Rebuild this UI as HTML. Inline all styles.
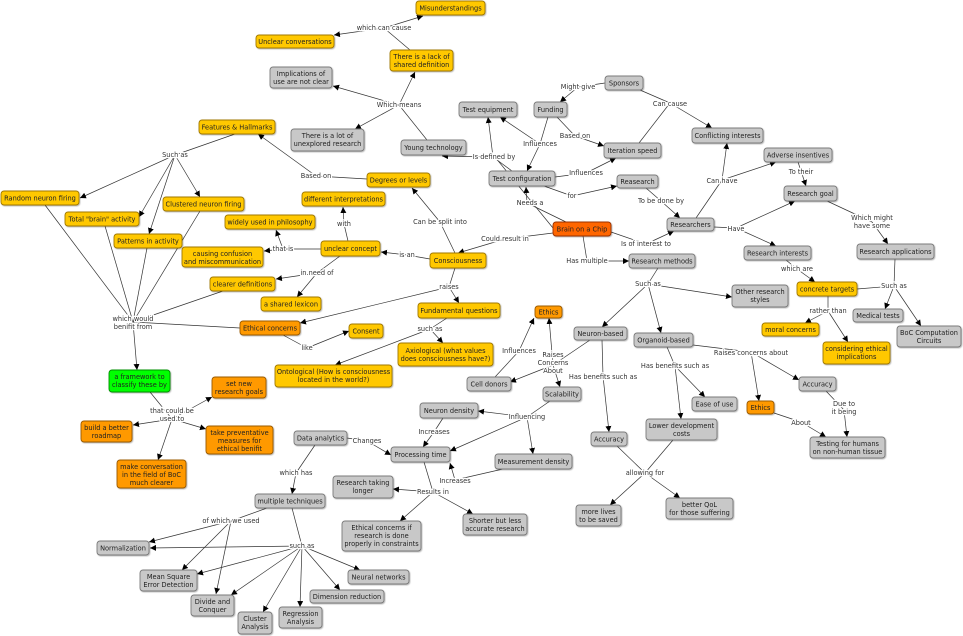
<!DOCTYPE html>
<html><head><meta charset="utf-8"><style>
html,body{margin:0;padding:0;background:#fff;width:963px;height:636px;overflow:hidden}
svg{display:block}
text{font-family:"DejaVu Sans","Liberation Sans",sans-serif;font-size:6.6px;fill:#222;text-anchor:middle}
.l text,text.l{fill:#333;paint-order:stroke;stroke:#fff;stroke-width:2.5px;stroke-linejoin:round}
rect{stroke-width:0.9;filter:url(#sh)}
.y{fill:#ffc800;stroke:#a07800}.g{fill:#c8c8c8;stroke:#7a7a7a}.o{fill:#ff9900;stroke:#9a5a00}.r{fill:#ff6600;stroke:#9a3000}.gr{fill:#00ff00;stroke:#009000}
line,polyline{stroke:#333;stroke-width:0.7;fill:none}
</style></head><body>
<svg id="s" width="963" height="636" viewBox="0 0 963 636" xmlns="http://www.w3.org/2000/svg">
<defs>
<marker id="a" markerWidth="7" markerHeight="7" refX="6" refY="3" orient="auto" markerUnits="userSpaceOnUse"><path d="M0,0 L6,3 L0,6 z" fill="#000"/></marker>
<filter id="sh" x="-10%" y="-10%" width="130%" height="140%"><feDropShadow dx="0.8" dy="0.8" stdDeviation="0.4" flood-color="#000" flood-opacity="0.3"/></filter>
</defs>
<g id="edges"></g>
<g class="l" id="labels">
<text x="384" y="30">which can cause</text>
<text x="399" y="107">Which means</text>
<text x="495" y="159">Is a</text>
<text x="175" y="157">Such as</text>
<text x="316" y="178">Based on</text>
<text x="440" y="224">Can be split into</text>
<text x="505" y="241">Could result in</text>
<text x="407" y="257">is an</text>
<text x="344" y="226">with</text>
<text x="283" y="251">that is</text>
<text x="317" y="275">in need of</text>
<text x="449" y="289">raises</text>
<text x="133" y="321">which would</text><text x="133" y="329">benifit from</text>
<text x="307" y="350">like</text>
<text x="430" y="331">such as</text>
<text x="172" y="413">that could be</text><text x="172" y="421">used to</text>
<text x="578" y="89">Might give</text>
<text x="670" y="106">Can cause</text>
<text x="540" y="146">Influences</text>
<text x="575" y="138">Based on</text>
<text x="494" y="159">Is defined by</text>
<text x="586" y="175">Influences</text>
<text x="572" y="198">for</text>
<text x="530" y="205">Needs a</text>
<text x="661" y="203">To be done by</text>
<text x="722" y="183">Can have</text>
<text x="801" y="174">To their</text>
<text x="646" y="246">Is of interest to</text>
<text x="736" y="231">Have</text>
<text x="872" y="220">Which might</text><text x="872" y="228">have some</text>
<text x="587" y="263">Has multiple</text>
<text x="797" y="271">which are</text>
<text x="894" y="288">Such as</text>
<text x="828" y="313">rather than</text>
<text x="648" y="286">Such as</text>
<text x="519" y="353">Influences</text>
<text x="553" y="357">Raises</text><text x="553" y="365">Concerns</text><text x="553" y="373">About</text>
<text x="603" y="379">Has benefits such as</text>
<text x="675" y="368">Has benefits such as</text>
<text x="751" y="355">Raises concerns about</text>
<text x="844" y="406">Due to</text><text x="844" y="414">it being</text>
<text x="801" y="425">About</text>
<text x="645" y="475">allowing for</text>
<text x="527" y="419">Influencing</text>
<text x="434" y="434">Increases</text>
<text x="455" y="483">Increases</text>
<text x="367" y="443">Changes</text>
<text x="433" y="494">Results in</text>
<text x="296" y="475">which has</text>
<text x="231" y="523">of which we used</text>
<text x="302" y="548">such as</text>
</g>
<g id="nodes">
<rect class="y" x="416" y="1" width="69" height="14" rx="3"/><text x="450.5" y="10.5">Misunderstandings</text>
<rect class="y" x="256" y="35" width="78" height="13" rx="3"/><text x="295" y="44">Unclear conversations</text>
<rect class="y" x="390" y="50" width="63" height="21" rx="3"/><text x="421.5" y="59">There is a lack of</text><text x="421.5" y="67">shared definition</text>
<rect class="g" x="270" y="67" width="62" height="21" rx="3"/><text x="301" y="76">Implications of</text><text x="301" y="84">use are not clear</text>
<rect class="g" x="291" y="129" width="73" height="22" rx="3"/><text x="327.5" y="138">There is a lot of</text><text x="327.5" y="146">unexplored research</text>
<rect class="g" x="401" y="140" width="65" height="15" rx="3"/><text x="433.5" y="150">Young technology</text>
<rect class="g" x="459" y="102" width="58" height="15" rx="3"/><text x="488" y="112">Test equipment</text>
<rect class="g" x="534" y="102" width="33" height="15" rx="3"/><text x="550.5" y="112">Funding</text>
<rect class="g" x="605" y="76" width="38" height="14" rx="3"/><text x="624" y="85.5">Sponsors</text>
<rect class="g" x="692" y="128" width="71" height="15" rx="3"/><text x="727.5" y="138">Conflicting interests</text>
<rect class="g" x="604" y="143" width="57" height="15" rx="3"/><text x="632.5" y="153">Iteration speed</text>
<rect class="g" x="489" y="171" width="66" height="15" rx="3"/><text x="522" y="181">Test configuration</text>
<rect class="g" x="617" y="175" width="41" height="13" rx="3"/><text x="637.5" y="184">Reasearch</text>
<rect class="g" x="764" y="148" width="68" height="14" rx="3"/><text x="798" y="157.5">Adverse insentives</text>
<rect class="g" x="784" y="186" width="53" height="15" rx="3"/><text x="810.5" y="196">Research goal</text>
<rect class="y" x="199" y="120" width="76" height="14" rx="3"/><text x="237" y="129.5">Features &amp; Hallmarks</text>
<rect class="y" x="367" y="173" width="63" height="14" rx="3"/><text x="398.5" y="182.5">Degrees or levels</text>
<rect class="y" x="302" y="192" width="83" height="14" rx="3"/><text x="343.5" y="201.5">different interpretations</text>
<rect class="y" x="1" y="191" width="78" height="14" rx="3"/><text x="40" y="200.5">Random neuron firing</text>
<rect class="y" x="65" y="212" width="74" height="14" rx="3"/><text x="102" y="221.5">Total "brain" activity</text>
<rect class="y" x="163" y="197" width="81" height="14" rx="3"/><text x="203.5" y="206.5">Clustered neuron firing</text>
<rect class="y" x="225" y="215" width="90" height="14" rx="3"/><text x="270" y="224.5">widely used in philosophy</text>
<rect class="y" x="114" y="234" width="68" height="14" rx="3"/><text x="148" y="243.5">Patterns in activity</text>
<rect class="y" x="182" y="247" width="81" height="20" rx="3"/><text x="222.5" y="256">causing confusion</text><text x="222.5" y="264">and miscommunication</text>
<rect class="y" x="321" y="241" width="59" height="15" rx="3"/><text x="350.5" y="251">unclear concept</text>
<rect class="y" x="430" y="253" width="56" height="15" rx="3"/><text x="458" y="263">Consciousness</text>
<rect class="r" x="553" y="222" width="58" height="14" rx="3"/><text x="582" y="231.5">Brain on a Chip</text>
<rect class="g" x="667" y="218" width="47" height="13" rx="3"/><text x="690.5" y="227">Researchers</text>
<rect class="g" x="744" y="246" width="67" height="14" rx="3"/><text x="777.5" y="255.5">Research interests</text>
<rect class="g" x="857" y="244" width="77" height="15" rx="3"/><text x="895.5" y="254">Research applications</text>
<rect class="g" x="629" y="254" width="66" height="14" rx="3"/><text x="662" y="263.5">Research methods</text>
<rect class="y" x="210" y="277" width="65" height="14" rx="3"/><text x="242.5" y="286.5">clearer definitions</text>
<rect class="y" x="261" y="297" width="60" height="14" rx="3"/><text x="291" y="306.5">a shared lexicon</text>
<rect class="y" x="418" y="303" width="82" height="15" rx="3"/><text x="459" y="313">Fundamental questions</text>
<rect class="o" x="240" y="321" width="60" height="14" rx="3"/><text x="270" y="330.5">Ethical concerns</text>
<rect class="y" x="349" y="324" width="34" height="14" rx="3"/><text x="366" y="333.5">Consent</text>
<rect class="y" x="398" y="343" width="95" height="23" rx="3"/><text x="445.5" y="353">Axiological (what values</text><text x="445.5" y="361">does consciousness have?)</text>
<rect class="y" x="275" y="365" width="117" height="22" rx="3"/><text x="333.5" y="374">Ontological (How is consciousness</text><text x="333.5" y="382">located in the world?)</text>
<rect class="y" x="797" y="282" width="60" height="14" rx="3"/><text x="827" y="291.5">concrete targets</text>
<rect class="g" x="732" y="285" width="56" height="22" rx="3"/><text x="760" y="294">Other research</text><text x="760" y="302">styles</text>
<rect class="g" x="853" y="309" width="50" height="13" rx="3"/><text x="878" y="318">Medical tests</text>
<rect class="g" x="897" y="326" width="64" height="21" rx="3"/><text x="929" y="335">BoC Computation</text><text x="929" y="343">Circuits</text>
<rect class="y" x="762" y="323" width="57" height="13" rx="3"/><text x="790.5" y="332">moral concerns</text>
<rect class="y" x="823" y="342" width="67" height="22" rx="3"/><text x="856.5" y="351">considering ethical</text><text x="856.5" y="359">implications</text>
<rect class="o" x="535" y="306" width="27" height="12" rx="3"/><text x="548.5" y="314.5">Ethics</text>
<rect class="g" x="574" y="327" width="53" height="13" rx="3"/><text x="600.5" y="336">Neuron-based</text>
<rect class="g" x="634" y="333" width="59" height="14" rx="3"/><text x="663.5" y="342.5">Organoid-based</text>
<rect class="g" x="467" y="377" width="44" height="14" rx="3"/><text x="489" y="386.5">Cell donors</text>
<rect class="g" x="543" y="387" width="38" height="14" rx="3"/><text x="562" y="396.5">Scalability</text>
<rect class="g" x="692" y="397" width="45" height="14" rx="3"/><text x="714.5" y="406.5">Ease of use</text>
<rect class="o" x="747" y="401" width="27" height="13" rx="3"/><text x="760.5" y="410">Ethics</text>
<rect class="g" x="799" y="377" width="37" height="14" rx="3"/><text x="817.5" y="386.5">Accuracy</text>
<rect class="g" x="420" y="403" width="58" height="15" rx="3"/><text x="449" y="413">Neuron density</text>
<rect class="g" x="495" y="454" width="77" height="15" rx="3"/><text x="533.5" y="464">Measurement density</text>
<rect class="g" x="591" y="432" width="36" height="14" rx="3"/><text x="609" y="441.5">Accuracy</text>
<rect class="g" x="646" y="419" width="71" height="21" rx="3"/><text x="681.5" y="428">Lower development</text><text x="681.5" y="436">costs</text>
<rect class="g" x="810" y="437" width="75" height="21" rx="3"/><text x="847.5" y="446">Testing for humans</text><text x="847.5" y="454">on non-human tissue</text>
<rect class="g" x="294" y="431" width="53" height="14" rx="3"/><text x="320.5" y="440.5">Data analytics</text>
<rect class="g" x="391" y="447" width="59" height="15" rx="3"/><text x="420.5" y="457">Processing time</text>
<rect class="g" x="333" y="476" width="60" height="22" rx="3"/><text x="363" y="485">Research taking</text><text x="363" y="493">longer</text>
<rect class="g" x="342" y="521" width="79" height="30" rx="3"/><text x="381.5" y="530">Ethical concerns if</text><text x="381.5" y="538">research is done</text><text x="381.5" y="546">properly in constraints</text>
<rect class="g" x="463" y="514" width="64" height="21" rx="3"/><text x="495" y="523">Shorter but less</text><text x="495" y="531">accurate research</text>
<rect class="g" x="255" y="494" width="70" height="14" rx="3"/><text x="290" y="503.5">multiple techniques</text>
<rect class="g" x="576" y="505" width="45" height="21" rx="3"/><text x="598.5" y="514">more lives</text><text x="598.5" y="522">to be saved</text>
<rect class="g" x="666" y="498" width="67" height="21" rx="3"/><text x="699.5" y="507">better QoL</text><text x="699.5" y="515">for those suffering</text>
<rect class="g" x="97" y="541" width="52" height="14" rx="3"/><text x="123" y="550.5">Normalization</text>
<rect class="g" x="348" y="570" width="61" height="14" rx="3"/><text x="378.5" y="579.5">Neural networks</text>
<rect class="g" x="140" y="570" width="57" height="21" rx="3"/><text x="168.5" y="579">Mean Square</text><text x="168.5" y="587">Error Detection</text>
<rect class="g" x="310" y="590" width="74" height="13" rx="3"/><text x="347" y="599">Dimension reduction</text>
<rect class="g" x="191" y="595" width="43" height="21" rx="3"/><text x="212.5" y="604">Divide and</text><text x="212.5" y="612">Conquer</text>
<rect class="g" x="238" y="612" width="34" height="22" rx="3"/><text x="255" y="621">Cluster</text><text x="255" y="629">Analysis</text>
<rect class="g" x="279" y="607" width="43" height="21" rx="3"/><text x="300.5" y="616">Regression</text><text x="300.5" y="624">Analysis</text>
<rect class="gr" x="109" y="370" width="61" height="22" rx="3"/><text x="139.5" y="379">a framework to</text><text x="139.5" y="387">classify these by</text>
<rect class="o" x="212" y="377" width="54" height="21" rx="3"/><text x="239" y="386">set new</text><text x="239" y="394">research goals</text>
<rect class="o" x="81" y="421" width="51" height="21" rx="3"/><text x="106.5" y="430">build a better</text><text x="106.5" y="438">roadmap</text>
<rect class="o" x="206" y="426" width="67" height="28" rx="3"/><text x="239.5" y="435">take preventative</text><text x="239.5" y="443">measures for</text><text x="239.5" y="451">ethical benifit</text>
<rect class="o" x="117" y="460" width="69" height="28" rx="3"/><text x="151.5" y="469">make conversation</text><text x="151.5" y="477">in the field of BoC</text><text x="151.5" y="485">much clearer</text>
</g>
</svg>
<script>
// [labelX,labelY, sources[[x,y]...], targets[[x,y]...]]
var L=[
[384,28,[[410,50]],[[423,16],[334,35]]],
[399,105,[[427,140]],[[415,72],[333,86],[355,129]]],
[495,157,[[553,228]],[[442,156]]],
[175,155,[[235,134]],[[80,198],[139,217],[149,234],[200,197]]],
[316,176,[[367,179]],[[258,134]]],
[440,222,[[455,253]],[[412,188]]],
[505,239,[[553,233]],[[458,253]]],
[407,255,[[430,259]],[[381,252]]],
[344,224,[[348,241]],[[343,207]]],
[283,249,[[321,249]],[[276,230],[264,251]]],
[317,273,[[340,256]],[[276,279],[297,297]]],
[449,287,[[455,268]],[[459,303],[300,323]]],
[133,322,[[45,205],[105,226],[147,248],[200,211],[223,291],[240,328]],[[137,370]]],
[307,348,[[283,335]],[[349,331]]],
[430,329,[[447,318]],[[443,343],[335,365]]],
[172,419,[[150,392]],[[212,397],[133,425],[206,429],[158,460]]],
[578,87,[[605,83]],[[560,102]]],
[670,103,[[640,90],[639,143]],[[712,128]]],
[540,144,[[548,117]],[[527,171],[500,117]]],
[575,136,[[557,117]],[[604,146]]],
[493,157,[[512,171]],[[488,117]]],
[586,173,[[555,177]],[[616,158]]],
[572,196,[[544,186]],[[617,186]]],
[527,203,[[566,222]],[[526,187]]],
[661,201,[[646,188]],[[680,218]]],
[722,180,[[696,218]],[[727,143],[776,162]]],
[801,171,[[798,162]],[[806,186]]],
[646,244,[[611,232]],[[674,231]]],
[736,228,[[714,227]],[[795,201],[776,246]]],
[872,222,[[827,201]],[[888,244]]],
[587,261,[[583,236]],[[629,261]]],
[797,269,[[786,260]],[[815,282]]],
[894,286,[[895,259],[857,289]],[[885,309],[921,326]]],
[828,311,[[828,296]],[[805,323],[848,342]]],
[648,284,[[658,268]],[[732,297],[602,327],[661,333]]],
[519,351,[[495,377]],[[534,318]]],
[553,365,[[590,340]],[[549,318],[510,382],[560,387]]],
[603,376,[[602,340]],[[609,432]]],
[675,366,[[667,347]],[[681,419],[705,397]]],
[751,352,[[693,345]],[[759,401],[799,380]]],
[844,410,[[826,391]],[[847,437]]],
[801,422,[[774,413]],[[826,437]]],
[645,473,[[617,446],[673,440]],[[610,505],[680,498]]],
[527,417,[[550,401]],[[478,411],[533,454],[450,451]]],
[434,432,[[443,418]],[[423,447]]],
[455,480,[[503,469]],[[450,463]]],
[367,441,[[347,438]],[[391,455]]],
[433,492,[[424,462]],[[393,489],[400,521],[473,514]]],
[296,473,[[315,445]],[[292,494]]],
[231,521,[[267,508]],[[149,542],[182,570],[216,594]]],
[302,546,[[292,508]],[[150,548],[197,574],[231,595],[263,612],[300,607],[340,590],[360,570]]]
];
var g=document.getElementById('edges'),ns='http://www.w3.org/2000/svg',h='';
L.forEach(function(e){var x=e[0],y=e[1];
e[2].forEach(function(p){h+='<line x1="'+p[0]+'" y1="'+p[1]+'" x2="'+x+'" y2="'+y+'"/>';});
e[3].forEach(function(p){h+='<line x1="'+x+'" y1="'+y+'" x2="'+p[0]+'" y2="'+p[1]+'" marker-end="url(#a)"/>';});});
g.innerHTML=h;
</script>
</body></html>
